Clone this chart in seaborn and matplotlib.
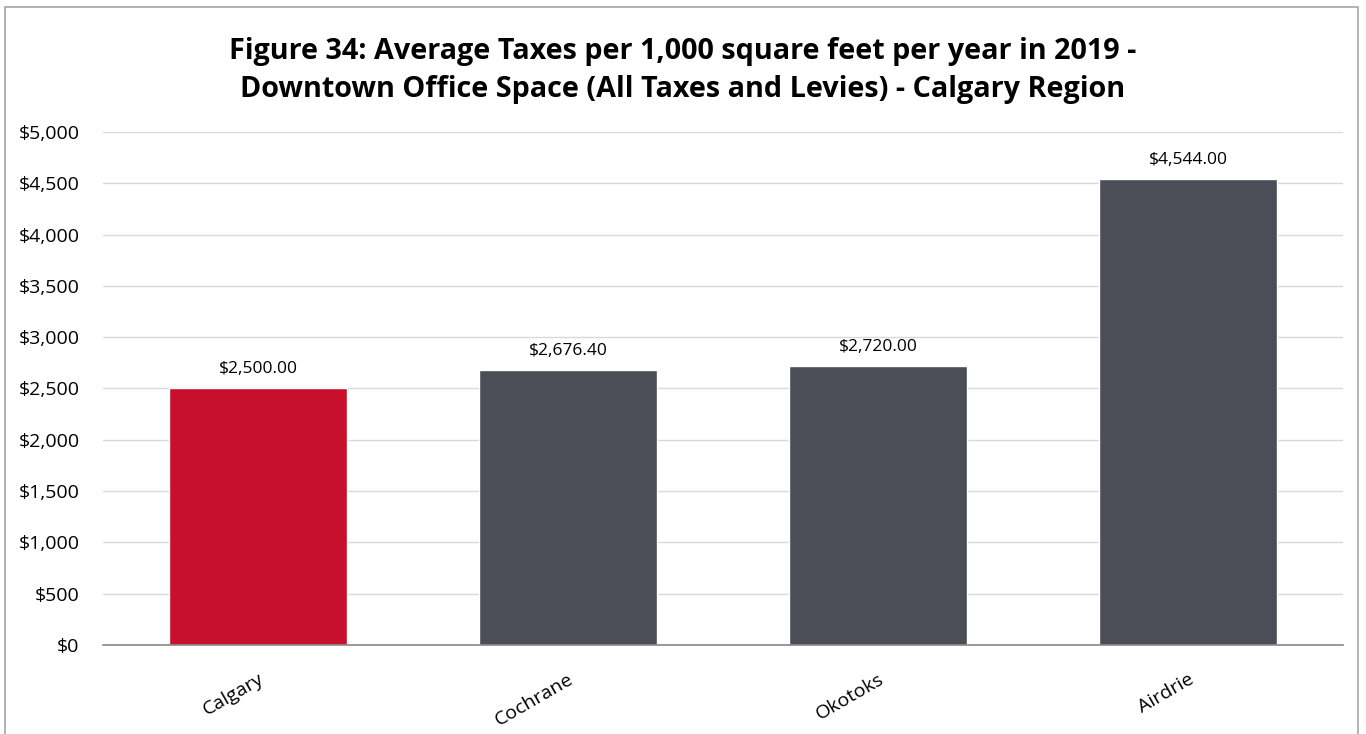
import matplotlib
matplotlib.use("Agg")
import matplotlib.pyplot as plt
import seaborn as sns
import pandas as pd
from matplotlib.patches import Rectangle

# Data
cities = ["Calgary", "Cochrane", "Okotoks", "Airdrie"]
taxes = [2500.00, 2676.40, 2720.00, 4544.00]
bar_colors = ["#C8102E", "#4B4E56", "#4B4E56", "#4B4E56"]
y_ticks = [0, 500, 1000, 1500, 2000, 2500, 3000, 3500, 4000, 4500, 5000]

sns.set_theme(style="white")
plt.rcParams['font.family'] = ['Open Sans', 'DejaVu Sans']

df = pd.DataFrame({'city': cities, 'tax': taxes})

fig = plt.figure(figsize=(13.66, 7.34), dpi=100)
ax = fig.add_axes([0.0754, 0.1213, 0.9078, 0.6989])

sns.barplot(data=df, x='city', y='tax', hue='city', palette=bar_colors,
            legend=False, width=0.574, saturation=1, ax=ax)

ax.set_ylim(0, 5000)
ax.set_xlim(-0.5, 3.5)
ax.set_yticks(y_ticks)
ax.set_yticklabels([f"${v:,.0f}" for v in y_ticks], fontsize=14, color='#000000')
ax.yaxis.grid(True, color='#d9d9d9', linewidth=1)
ax.set_axisbelow(True)
ax.tick_params(axis='y', length=0, pad=17)
ax.tick_params(axis='x', length=0, pad=18)
plt.setp(ax.get_xticklabels(), rotation=30, ha='right', rotation_mode='anchor',
         fontsize=14, color='#000000')
ax.set_xlabel('')
ax.set_ylabel('')
for s in ['top', 'right', 'left']:
    ax.spines[s].set_visible(False)
ax.spines['bottom'].set_color('#888888')
ax.spines['bottom'].set_linewidth(1.2)

for container in ax.containers:
    ax.bar_label(container, labels=[f"${v:,.2f}" for v in container.datavalues],
                 padding=8, fontsize=12.5, color='#000000')

fig.suptitle("Figure 34: Average Taxes per 1,000 square feet per year in 2019 -\n"
             "Downtown Office Space (All Taxes and Levies) - Calgary Region",
             fontsize=20.7, fontweight='bold', y=0.95, linespacing=1.42,
             color='#000000')

fig.patches.append(Rectangle((0.004, -0.01), 0.99, 1.0, transform=fig.transFigure,
                             fill=False, edgecolor='#a6a6a6', linewidth=1.2))

fig.savefig('out.png', dpi=100)
